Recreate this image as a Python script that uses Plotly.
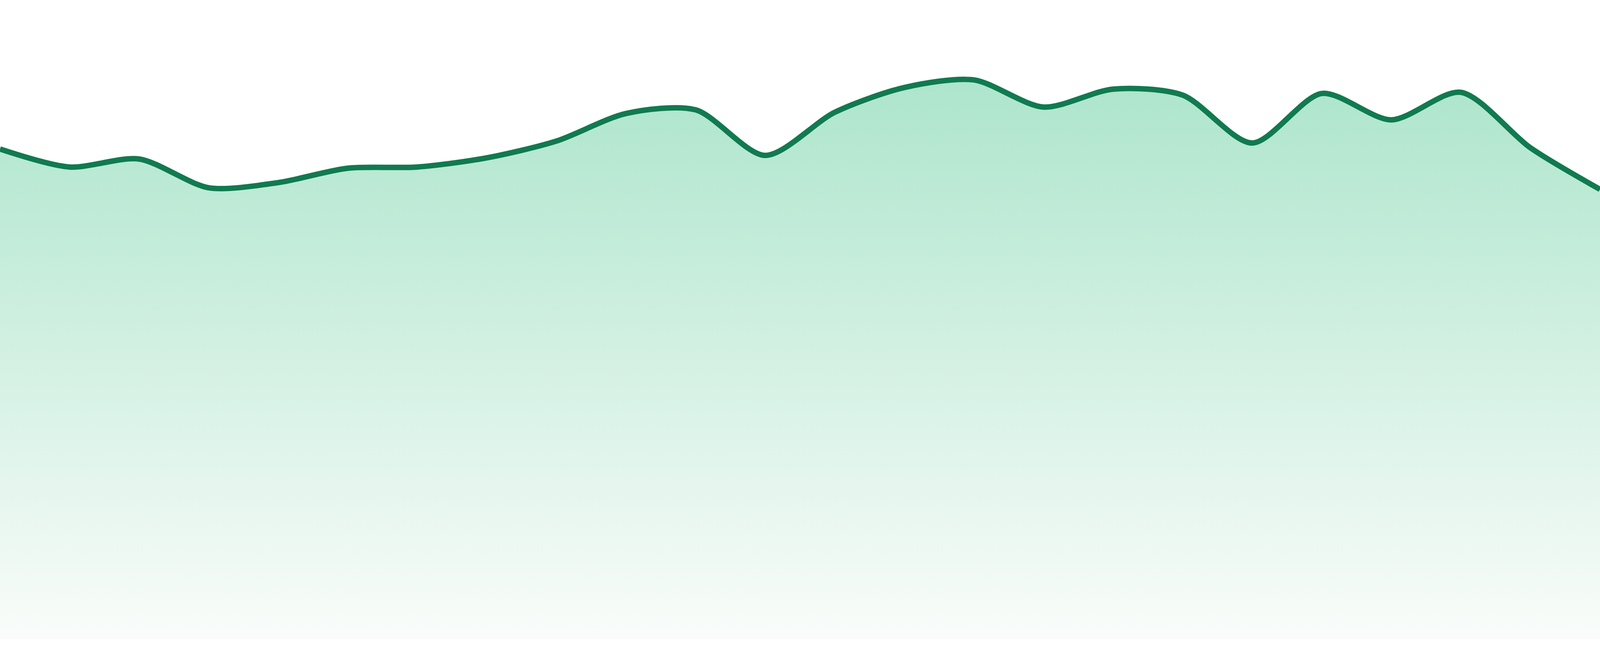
# Smoothed area chart with a vertical green gradient under the line

import plotly.graph_objects as go

# One value per period
periods = list(range(24))
values = [122.7, 118.2, 120.2, 113.0, 114.3, 117.9, 118.2, 120.5,
          124.7, 131.6, 132.5, 121.1, 131.9, 138.1, 140.0, 133.2,
          137.7, 136.2, 124.2, 136.6, 130.0, 136.9, 123.0, 112.6]

line_color = "#117a50"
fill_top = "rgb(173,229,204)"
fill_bottom = "rgb(249,252,250)"

fig = go.Figure()
fig.add_trace(go.Scatter(
    x=periods,
    y=values,
    mode="lines",
    line=dict(color=line_color, width=14, shape="spline", smoothing=0.8),
    fill="tozeroy",
    fillgradient=dict(
        type="vertical",
        colorscale=[[0, fill_bottom], [1, fill_top]],
        start=0,
        stop=max(values),
    ),
    hoverinfo="skip",
))

fig.update_layout(
    autosize=True,
    paper_bgcolor="white",
    plot_bgcolor="white",
    margin=dict(l=0, r=0, t=0, b=0, pad=0),
    showlegend=False,
    xaxis=dict(range=[0, 23], visible=False),
    # leave a thin white band under the area, like the original
    yaxis=dict(range=[0, 160], visible=False, domain=[43 / 1680, 1]),
)

# drop the default body margin, then let plotly refit to the page
no_margin = (
    "document.body.style.margin = '0';"
    "Plotly.Plots.resize(document.getElementById('{plot_id}'));"
)
fig.write_html("out.html", post_script=no_margin, config={"displayModeBar": False})
